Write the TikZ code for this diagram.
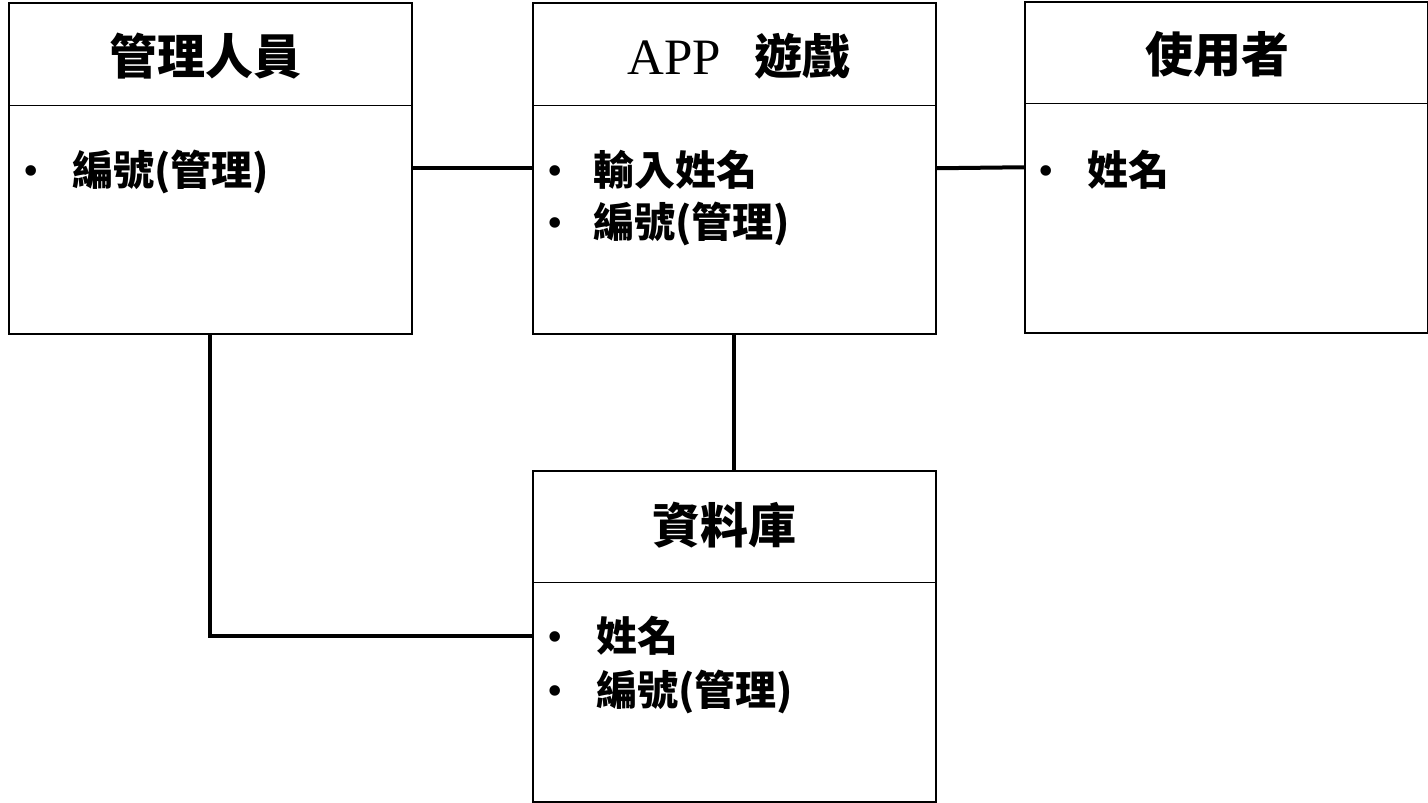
\documentclass[tikz,border=0pt]{standalone}
\usepackage{fontspec}
\setmainfont{Noto Sans CJK TC}
\newfontfamily\latinfont{Liberation Serif}
\begin{document}
\begin{tikzpicture}[x=1pt,y=-1pt,
  box/.style={draw,line width=1.5pt,minimum width=403pt,minimum height=331pt,inner sep=0pt,anchor=north west},
  divider/.style={line width=1pt},
  title/.style={inner sep=0pt,anchor=base,font=\fontsize{48}{52}\selectfont\bfseries},
  item/.style={inner sep=0pt,anchor=base west,font=\fontsize{41}{48}\selectfont\bfseries},
  dot/.style={inner sep=0pt,anchor=base,font=\fontsize{44}{48}\selectfont\latinfont},
  link/.style={line width=4pt}]
\useasboundingbox (0,0) rectangle (1428,803);
% boxes
\node[box] (b1) at (8,2) {};
\node[box] (b2) at (532,2) {};
\node[box] (b3) at (1024,1) {};
\node[box] (b4) at (532,470) {};
% dividers
\coordinate (d1l) at (8,105); \coordinate (d1r) at (411,105);
\coordinate (d2l) at (532,105); \coordinate (d2r) at (935,105);
\coordinate (d3l) at (1024,103); \coordinate (d3r) at (1427,103);
\coordinate (d4l) at (532,582); \coordinate (d4r) at (935,582);
\draw[divider] (d1l) -- (d1r);
\draw[divider] (d2l) -- (d2r);
\draw[divider] (d3l) -- (d3r);
\draw[divider] (d4l) -- (d4r);
% titles
\node[title] (t1) at (205,74) {管理人員};
\node[title] (t2) at (739,74) {{\mdseries\latinfont\fontsize{51}{52}\selectfont APP}\hspace{34pt}遊戲};
\node[title] (t3) at (1217,72) {使用者};
\node[title] (t4) at (724,543) {資料庫};
% items
\node[dot] (p11) at (31,185) {•};
\node[item] (i11) at (72,185) {編號(管理)};
\node[dot] (p21) at (555,185) {•};
\node[item] (i21) at (593,185) {輸入姓名};
\node[dot] (p22) at (555,237) {•};
\node[item] (i22) at (593,237) {編號(管理)};
\node[dot] (p31) at (1046,185) {•};
\node[item] (i31) at (1087,185) {姓名};
\node[dot] (p41) at (555,651) {•};
\node[item] (i41) at (596,651) {姓名};
\node[dot] (p42) at (555,705) {•};
\node[item] (i42) at (596,705) {編號(管理)};
% connectors
\draw[link] (b1.east) -- (b2.west);
\draw[link] (b2.east) -- (b3.west);
\draw[link] (b2.south) -- (b4.north);
\draw[link] (b1.south) |- (b4.west);
\end{tikzpicture}
\end{document}
